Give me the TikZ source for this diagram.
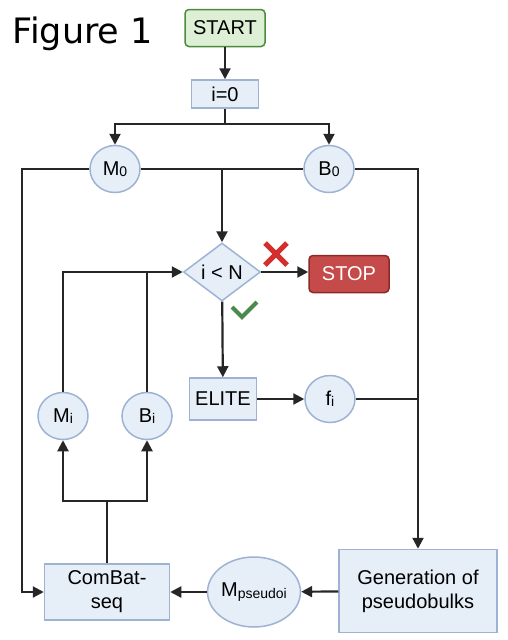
\documentclass[tikz,border=0pt]{standalone}
\usepackage{fontspec}
\setmainfont{Liberation Sans}
\newfontfamily\figfont{DejaVu Sans}
\usepackage{xcolor}
\usepackage{tikz}
\usetikzlibrary{arrows.meta,positioning,shapes.geometric}
\definecolor{boxfill}{HTML}{E6EEF8}
\definecolor{boxline}{HTML}{9EB3D4}
\definecolor{startfill}{HTML}{DDEFD5}
\definecolor{startline}{HTML}{4C8A3C}
\definecolor{stopfill}{HTML}{C54B4B}
\definecolor{stopline}{HTML}{8C2A2A}
\definecolor{linedark}{HTML}{262626}
\definecolor{crossred}{HTML}{D42F2F}
\definecolor{checkgreen}{HTML}{4A8A4A}
\newcommand{\lowsub}[1]{\raisebox{-1.5pt}{\fontsize{14}{14}\selectfont #1}}
\tikzset{
  stepbox/.style={draw=boxline, line width=1.5pt, fill=boxfill, align=center, inner sep=2pt},
  terminal/.style={rounded corners=4pt, line width=1.5pt, align=center, inner sep=2pt, minimum width=80pt, minimum height=37pt},
  var/.style={ellipse, draw=boxline, line width=1.5pt, fill=boxfill, inner sep=0pt, minimum width=50pt, minimum height=47pt},
  decision/.style={diamond, draw=boxline, line width=1.5pt, fill=boxfill, inner sep=0pt, minimum width=77pt, minimum height=58pt},
  line/.style={draw=linedark, line width=2.2pt},
  arrow/.style={line, -{Triangle[length=11pt, width=11pt]}},
  cross/.style={draw=crossred, line width=5pt},
  check/.style={draw=checkgreen, line width=4pt}
}
\begin{document}
\begin{tikzpicture}[x=1pt, y=-1pt, font=\fontsize{20}{24}\selectfont]
  \useasboundingbox (0,0) rectangle (507,640);

  \node[anchor=base west, font=\figfont\fontsize{35}{40}\selectfont] (title) at (9,43) {Figure 1};
  \node[terminal, draw=startline, fill=startfill] (start) at (225,28) {START};
  \node[stepbox, minimum width=67pt, minimum height=28pt] (init) at (225,94) {i=0};
  \node[var] (m0) at (115,169) {M\lowsub{0}};
  \node[var] (b0) at (329,169) {B\lowsub{0}};
  \node[decision] (cond) at (222,272) {i < N};
  \node[terminal, draw=stopline, fill=stopfill, text=white] (stop) at (349,274) {STOP};
  \node[stepbox, minimum width=67pt, minimum height=42pt] (elite) at (223,399) {ELITE};
  \node[var] (fi) at (330,399) {f\lowsub{i}};
  \node[var] (mi) at (63,416) {M\lowsub{i}};
  \node[var] (bi) at (147,416) {B\lowsub{i}};
  \node[stepbox, minimum width=125pt, minimum height=56pt] (combat) at (107,592) {ComBat-\\seq};
  \node[var, minimum width=88pt, minimum height=70pt] (mpseudo) at (254,592) {M\lowsub{pseudoi}};
  \node[stepbox, minimum width=158pt, minimum height=83pt] (gen) at (418,591) {Generation of\\pseudobulks};

  \coordinate (split) at (225,124);
  \coordinate (leftrail) at (22,169);
  \coordinate (fork) at (107,501);

  \draw[arrow] (start) -- (init);
  \draw[arrow] (init) -- (split) -| (m0);
  \draw[arrow] (split) -| (b0);
  \draw[line] (m0) -- (b0);
  \draw[arrow] (cond |- m0) -- (cond);
  \draw[arrow] (m0) -- (leftrail) |- (combat);
  \draw[arrow] (b0) -| (gen);
  \draw[arrow] (cond) -- (cond -| stop.west);
  \draw[arrow] (cond) -- (elite);
  \draw[arrow] (elite) -- (fi);
  \draw[line] (fi) -- (fi -| gen);
  \draw[arrow] (gen) -- (mpseudo);
  \draw[arrow] (mpseudo) -- (combat);
  \draw[line] (combat) -- (fork);
  \draw[arrow] (fork) -| (mi);
  \draw[arrow] (fork) -| (bi);
  \draw[arrow] (mi) |- (cond);
  \draw[line] (bi) -- (bi |- cond);

  % no / yes marks
  \draw[cross] (265,243) -- (287,265) (265,265) -- (287,243);
  \draw[check, line join=miter] (232,307) -- (242,317) -- (257,302);
\end{tikzpicture}
\end{document}
